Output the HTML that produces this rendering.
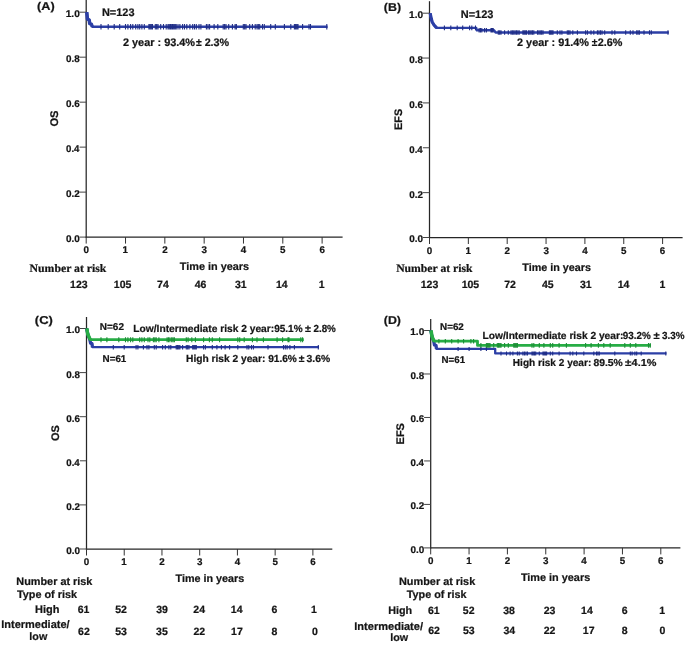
<!DOCTYPE html>
<html><head><meta charset="utf-8"><title>Kaplan-Meier survival curves</title>
<style>
html,body{margin:0;padding:0;background:#fff;}
svg{display:block;will-change:transform;}
text{text-rendering:geometricPrecision;font-family:"Liberation Sans",sans-serif;font-weight:bold;fill:#141414;stroke:#141414;stroke-width:0.22px;paint-order:stroke;}
</style></head><body>
<svg width="685" height="645" viewBox="0 0 685 645">
<rect width="685" height="645" fill="#fff"/>
<line x1="86.20" y1="0.00" x2="86.20" y2="237.70" stroke="#262626" stroke-width="1.25"/>
<line x1="85.60" y1="237.10" x2="342.60" y2="237.10" stroke="#262626" stroke-width="1.25"/>
<line x1="79.60" y1="237.10" x2="86.20" y2="237.10" stroke="#444" stroke-width="1.0"/>
<text x="66.01" y="242.00" font-size="9.8" textLength="13.80" lengthAdjust="spacingAndGlyphs">0.0</text>
<line x1="79.60" y1="192.12" x2="86.20" y2="192.12" stroke="#444" stroke-width="1.0"/>
<text x="66.01" y="197.02" font-size="9.8" textLength="13.79" lengthAdjust="spacingAndGlyphs">0.2</text>
<line x1="79.60" y1="147.14" x2="86.20" y2="147.14" stroke="#444" stroke-width="1.0"/>
<text x="66.02" y="152.04" font-size="9.8" textLength="13.43" lengthAdjust="spacingAndGlyphs">0.4</text>
<line x1="79.60" y1="102.16" x2="86.20" y2="102.16" stroke="#444" stroke-width="1.0"/>
<text x="66.01" y="107.06" font-size="9.8" textLength="13.75" lengthAdjust="spacingAndGlyphs">0.6</text>
<line x1="79.60" y1="57.18" x2="86.20" y2="57.18" stroke="#444" stroke-width="1.0"/>
<text x="66.01" y="62.08" font-size="9.8" textLength="13.69" lengthAdjust="spacingAndGlyphs">0.8</text>
<line x1="79.60" y1="12.20" x2="86.20" y2="12.20" stroke="#444" stroke-width="1.0"/>
<text x="65.76" y="17.10" font-size="9.8" textLength="14.05" lengthAdjust="spacingAndGlyphs">1.0</text>
<line x1="86.20" y1="237.10" x2="86.20" y2="243.60" stroke="#333" stroke-width="1.0"/>
<text x="83.48" y="253.45" font-size="9.8">0</text>
<line x1="125.52" y1="237.10" x2="125.52" y2="243.60" stroke="#333" stroke-width="1.0"/>
<text x="122.62" y="253.45" font-size="9.8">1</text>
<line x1="164.84" y1="237.10" x2="164.84" y2="243.60" stroke="#333" stroke-width="1.0"/>
<text x="162.14" y="253.45" font-size="9.8">2</text>
<line x1="204.16" y1="237.10" x2="204.16" y2="243.60" stroke="#333" stroke-width="1.0"/>
<text x="201.50" y="253.45" font-size="9.8">3</text>
<line x1="243.48" y1="237.10" x2="243.48" y2="243.60" stroke="#333" stroke-width="1.0"/>
<text x="240.71" y="253.45" font-size="9.8">4</text>
<line x1="282.80" y1="237.10" x2="282.80" y2="243.60" stroke="#333" stroke-width="1.0"/>
<text x="280.06" y="253.45" font-size="9.8">5</text>
<line x1="322.12" y1="237.10" x2="322.12" y2="243.60" stroke="#333" stroke-width="1.0"/>
<text x="319.39" y="253.45" font-size="9.8">6</text>
<text x="36.97" y="10.30" font-size="11.4" textLength="17.67" lengthAdjust="spacingAndGlyphs">(A)</text>
<text transform="translate(54.20,118.50) rotate(-90)" x="-8.06" y="3.99" font-size="11.14">OS</text>
<path d="M86.80,12.20 L87.40,19.00 L89.20,20.00 L89.70,23.60 L91.40,24.20 L92.30,26.80 L327.60,26.80" fill="none" stroke="#2c3fa6" stroke-width="2.4" stroke-linejoin="round" stroke-linecap="butt"/>
<path d="M86.80,12.20 L87.40,19.00 L89.20,20.00 L89.70,23.60 L91.40,24.20 L92.30,26.80" fill="none" stroke="#2c3fa6" stroke-width="3.5" stroke-linejoin="round" stroke-linecap="butt"/>
<path d="M101.00,24.00V29.60M108.20,24.00V29.60M114.20,24.00V29.60M119.70,24.00V29.60M125.50,24.00V29.60M127.90,24.00V29.60M130.60,24.00V29.60M132.80,24.00V29.60M135.70,24.00V29.60M137.90,24.00V29.60M139.70,24.00V29.60M141.90,24.00V29.60M144.30,24.00V29.60M148.90,24.00V29.60M150.10,24.00V29.60M151.30,24.00V29.60M152.50,24.00V29.60M155.30,24.00V29.60M156.65,24.00V29.60M158.00,24.00V29.60M160.70,24.00V29.60M163.50,24.00V29.60M166.20,24.00V29.60M168.00,24.00V29.60M169.23,24.00V29.60M170.47,24.00V29.60M171.70,24.00V29.60M172.60,24.00V29.60M173.80,24.00V29.60M175.00,24.00V29.60M176.20,24.00V29.60M178.00,24.00V29.60M179.90,24.00V29.60M182.60,24.00V29.60M184.50,24.00V29.60M186.80,24.00V29.60M189.90,24.00V29.60M192.70,24.00V29.60M194.50,24.00V29.60M196.30,24.00V29.60M199.00,24.00V29.60M200.90,24.00V29.60M206.40,24.00V29.60M208.00,24.00V29.60M209.60,24.00V29.60M214.10,24.00V29.60M217.80,24.00V29.60M223.20,24.00V29.60M224.60,24.00V29.60M226.00,24.00V29.60M228.70,24.00V29.60M232.40,24.00V29.60M235.10,24.00V29.60M236.40,24.00V29.60M243.30,24.00V29.60M244.65,24.00V29.60M246.00,24.00V29.60M249.70,24.00V29.60M252.40,24.00V29.60M255.20,24.00V29.60M257.00,24.00V29.60M258.35,24.00V29.60M259.70,24.00V29.60M262.50,24.00V29.60M264.30,24.00V29.60M270.70,24.00V29.60M275.30,24.00V29.60M284.40,24.00V29.60M290.80,24.00V29.60M294.40,24.00V29.60M295.60,24.00V29.60M296.80,24.00V29.60M298.00,24.00V29.60M302.60,24.00V29.60M309.00,24.00V29.60M310.50,24.00V29.60M326.80,24.00V29.60" stroke="#1f2d86" stroke-width="1.1" fill="none"/>
<text x="101.97" y="15.90" font-size="10.93">N=123</text>
<text x="122.92" y="45.50" font-size="10.91">2 year : 93.4%</text>
<text x="195.95" y="45.50" font-size="10.91" textLength="5.69" lengthAdjust="spacingAndGlyphs">±</text>
<text x="204.63" y="45.50" font-size="10.91" textLength="24.56" lengthAdjust="spacingAndGlyphs">2.3%</text>
<text x="29.58" y="272.00" font-size="11.5" style="font-family:'Liberation Serif',serif" textLength="76.84" lengthAdjust="spacingAndGlyphs">Number at risk</text>
<text x="179.78" y="269.90" font-size="10.88">Time in years</text>
<text x="70.10" y="288.00" font-size="10.5">123</text>
<text x="113.86" y="288.00" font-size="10.5">105</text>
<text x="157.06" y="288.00" font-size="10.5">74</text>
<text x="194.77" y="288.00" font-size="10.5">46</text>
<text x="235.04" y="288.00" font-size="10.5">31</text>
<text x="275.91" y="288.00" font-size="10.5">14</text>
<text x="318.85" y="288.00" font-size="10.5">1</text>
<line x1="429.50" y1="1.20" x2="429.50" y2="238.10" stroke="#262626" stroke-width="1.25"/>
<line x1="428.90" y1="237.50" x2="682.60" y2="237.50" stroke="#262626" stroke-width="1.25"/>
<line x1="422.90" y1="237.50" x2="429.50" y2="237.50" stroke="#444" stroke-width="1.0"/>
<text x="409.31" y="242.40" font-size="9.8" textLength="13.80" lengthAdjust="spacingAndGlyphs">0.0</text>
<line x1="422.90" y1="192.64" x2="429.50" y2="192.64" stroke="#444" stroke-width="1.0"/>
<text x="409.31" y="197.54" font-size="9.8" textLength="13.79" lengthAdjust="spacingAndGlyphs">0.2</text>
<line x1="422.90" y1="147.78" x2="429.50" y2="147.78" stroke="#444" stroke-width="1.0"/>
<text x="409.32" y="152.68" font-size="9.8" textLength="13.43" lengthAdjust="spacingAndGlyphs">0.4</text>
<line x1="422.90" y1="102.92" x2="429.50" y2="102.92" stroke="#444" stroke-width="1.0"/>
<text x="409.31" y="107.82" font-size="9.8" textLength="13.75" lengthAdjust="spacingAndGlyphs">0.6</text>
<line x1="422.90" y1="58.06" x2="429.50" y2="58.06" stroke="#444" stroke-width="1.0"/>
<text x="409.31" y="62.96" font-size="9.8" textLength="13.69" lengthAdjust="spacingAndGlyphs">0.8</text>
<line x1="422.90" y1="13.20" x2="429.50" y2="13.20" stroke="#444" stroke-width="1.0"/>
<text x="409.06" y="18.10" font-size="9.8" textLength="14.05" lengthAdjust="spacingAndGlyphs">1.0</text>
<line x1="429.50" y1="237.50" x2="429.50" y2="244.00" stroke="#333" stroke-width="1.0"/>
<text x="426.78" y="253.85" font-size="9.8">0</text>
<line x1="468.35" y1="237.50" x2="468.35" y2="244.00" stroke="#333" stroke-width="1.0"/>
<text x="465.45" y="253.85" font-size="9.8">1</text>
<line x1="507.20" y1="237.50" x2="507.20" y2="244.00" stroke="#333" stroke-width="1.0"/>
<text x="504.50" y="253.85" font-size="9.8">2</text>
<line x1="546.05" y1="237.50" x2="546.05" y2="244.00" stroke="#333" stroke-width="1.0"/>
<text x="543.39" y="253.85" font-size="9.8">3</text>
<line x1="584.90" y1="237.50" x2="584.90" y2="244.00" stroke="#333" stroke-width="1.0"/>
<text x="582.13" y="253.85" font-size="9.8">4</text>
<line x1="623.75" y1="237.50" x2="623.75" y2="244.00" stroke="#333" stroke-width="1.0"/>
<text x="621.01" y="253.85" font-size="9.8">5</text>
<line x1="662.60" y1="237.50" x2="662.60" y2="244.00" stroke="#333" stroke-width="1.0"/>
<text x="659.87" y="253.85" font-size="9.8">6</text>
<text x="383.88" y="10.60" font-size="11.4" textLength="17.24" lengthAdjust="spacingAndGlyphs">(B)</text>
<text transform="translate(398.30,119.30) rotate(-90)" x="-10.73" y="3.90" font-size="10.88">EFS</text>
<path d="M430.20,13.20 L431.20,18.50 L432.20,22.00 L434.00,25.00 L436.60,27.90 L476.20,27.90 L476.90,30.30 L494.00,30.30 L495.60,32.50 L668.80,32.50" fill="none" stroke="#2c3fa6" stroke-width="2.4" stroke-linejoin="round" stroke-linecap="butt"/>
<path d="M430.20,13.20 L431.20,18.50 L432.20,22.00 L434.00,25.00 L436.60,27.90" fill="none" stroke="#2c3fa6" stroke-width="3.2" stroke-linejoin="round" stroke-linecap="butt"/>
<path d="M444.40,25.60V30.20M450.80,25.60V30.20M457.20,25.60V30.20M462.70,25.60V30.20M469.60,25.60V30.20M471.80,25.60V30.20M475.50,25.60V30.20M479.10,28.00V32.60M480.45,28.00V32.60M481.80,28.00V32.60M484.60,28.00V32.60M486.40,28.00V32.60M491.00,28.00V32.60M492.10,28.00V32.60M493.20,28.00V32.60M498.30,30.20V34.80M499.65,30.20V34.80M501.00,30.20V34.80M504.60,30.20V34.80M508.30,30.20V34.80M511.00,30.20V34.80M512.37,30.20V34.80M513.73,30.20V34.80M515.10,30.20V34.80M516.47,30.20V34.80M517.83,30.20V34.80M519.20,30.20V34.80M522.90,30.20V34.80M524.10,30.20V34.80M525.30,30.20V34.80M526.50,30.20V34.80M528.40,30.20V34.80M529.75,30.20V34.80M531.10,30.20V34.80M532.45,30.20V34.80M533.80,30.20V34.80M537.50,30.20V34.80M538.88,30.20V34.80M540.25,30.20V34.80M541.62,30.20V34.80M543.00,30.20V34.80M549.40,30.20V34.80M550.60,30.20V34.80M551.80,30.20V34.80M553.00,30.20V34.80M557.30,30.20V34.80M560.00,30.20V34.80M561.90,30.20V34.80M567.30,30.20V34.80M568.65,30.20V34.80M570.00,30.20V34.80M572.80,30.20V34.80M577.40,30.20V34.80M585.60,30.20V34.80M587.40,30.20V34.80M591.00,30.20V34.80M593.80,30.20V34.80M597.40,30.20V34.80M598.93,30.20V34.80M600.47,30.20V34.80M602.00,30.20V34.80M604.70,30.20V34.80M612.00,30.20V34.80M614.80,30.20V34.80M625.70,30.20V34.80M630.30,30.20V34.80M633.00,30.20V34.80M636.70,30.20V34.80M638.05,30.20V34.80M639.40,30.20V34.80M644.00,30.20V34.80M649.50,30.20V34.80M651.30,30.20V34.80M668.00,30.20V34.80" stroke="#1f2d86" stroke-width="1.1" fill="none"/>
<text x="460.77" y="17.70" font-size="10.97">N=123</text>
<text x="517.02" y="45.50" font-size="10.89">2 year : 91.4%</text>
<text x="591.75" y="45.50" font-size="10.89" textLength="5.69" lengthAdjust="spacingAndGlyphs">±</text>
<text x="597.72" y="45.50" font-size="10.89" textLength="24.66" lengthAdjust="spacingAndGlyphs">2.6%</text>
<text x="396.18" y="272.10" font-size="11.5" style="font-family:'Liberation Serif',serif" textLength="76.44" lengthAdjust="spacingAndGlyphs">Number at risk</text>
<text x="522.28" y="270.70" font-size="10.77">Time in years</text>
<text x="420.75" y="287.80" font-size="10.5">123</text>
<text x="461.66" y="287.80" font-size="10.5">105</text>
<text x="504.25" y="287.80" font-size="10.5">72</text>
<text x="541.88" y="287.80" font-size="10.5">45</text>
<text x="580.04" y="287.80" font-size="10.5">31</text>
<text x="617.66" y="287.80" font-size="10.5">14</text>
<text x="659.55" y="287.80" font-size="10.5">1</text>
<line x1="86.50" y1="317.00" x2="86.50" y2="549.60" stroke="#262626" stroke-width="1.25"/>
<line x1="85.90" y1="549.00" x2="332.30" y2="549.00" stroke="#262626" stroke-width="1.25"/>
<line x1="79.90" y1="549.00" x2="86.50" y2="549.00" stroke="#444" stroke-width="1.0"/>
<text x="66.31" y="553.90" font-size="9.8" textLength="13.80" lengthAdjust="spacingAndGlyphs">0.0</text>
<line x1="79.90" y1="504.90" x2="86.50" y2="504.90" stroke="#444" stroke-width="1.0"/>
<text x="66.31" y="509.80" font-size="9.8" textLength="13.79" lengthAdjust="spacingAndGlyphs">0.2</text>
<line x1="79.90" y1="460.80" x2="86.50" y2="460.80" stroke="#444" stroke-width="1.0"/>
<text x="66.32" y="465.70" font-size="9.8" textLength="13.43" lengthAdjust="spacingAndGlyphs">0.4</text>
<line x1="79.90" y1="416.70" x2="86.50" y2="416.70" stroke="#444" stroke-width="1.0"/>
<text x="66.31" y="421.60" font-size="9.8" textLength="13.75" lengthAdjust="spacingAndGlyphs">0.6</text>
<line x1="79.90" y1="372.60" x2="86.50" y2="372.60" stroke="#444" stroke-width="1.0"/>
<text x="66.31" y="377.50" font-size="9.8" textLength="13.69" lengthAdjust="spacingAndGlyphs">0.8</text>
<line x1="79.90" y1="328.50" x2="86.50" y2="328.50" stroke="#444" stroke-width="1.0"/>
<text x="66.06" y="333.40" font-size="9.8" textLength="14.05" lengthAdjust="spacingAndGlyphs">1.0</text>
<line x1="86.50" y1="549.00" x2="86.50" y2="555.50" stroke="#333" stroke-width="1.0"/>
<text x="83.78" y="565.35" font-size="9.8">0</text>
<line x1="124.23" y1="549.00" x2="124.23" y2="555.50" stroke="#333" stroke-width="1.0"/>
<text x="121.33" y="565.35" font-size="9.8">1</text>
<line x1="161.96" y1="549.00" x2="161.96" y2="555.50" stroke="#333" stroke-width="1.0"/>
<text x="159.26" y="565.35" font-size="9.8">2</text>
<line x1="199.69" y1="549.00" x2="199.69" y2="555.50" stroke="#333" stroke-width="1.0"/>
<text x="197.03" y="565.35" font-size="9.8">3</text>
<line x1="237.42" y1="549.00" x2="237.42" y2="555.50" stroke="#333" stroke-width="1.0"/>
<text x="234.65" y="565.35" font-size="9.8">4</text>
<line x1="275.15" y1="549.00" x2="275.15" y2="555.50" stroke="#333" stroke-width="1.0"/>
<text x="272.41" y="565.35" font-size="9.8">5</text>
<line x1="312.88" y1="549.00" x2="312.88" y2="555.50" stroke="#333" stroke-width="1.0"/>
<text x="310.15" y="565.35" font-size="9.8">6</text>
<text x="34.85" y="324.00" font-size="11.4" textLength="17.99" lengthAdjust="spacingAndGlyphs">(C)</text>
<text transform="translate(55.20,433.00) rotate(-90)" x="-7.95" y="3.93" font-size="10.99">OS</text>
<path d="M86.50,328.50 L88.40,336.00 L89.80,339.60 L90.60,343.30 L92.00,343.60 L92.40,347.20 L319.00,347.20" fill="none" stroke="#2c3fa6" stroke-width="2.3" stroke-linejoin="round" stroke-linecap="butt"/>
<path d="M86.50,328.50 L88.40,336.00 L89.80,339.60 L90.60,343.30 L92.00,343.60 L92.40,347.20" fill="none" stroke="#2c3fa6" stroke-width="3.2" stroke-linejoin="round" stroke-linecap="butt"/>
<path d="M113.30,345.00V349.40M124.20,345.00V349.40M136.10,345.00V349.40M137.90,345.00V349.40M143.40,345.00V349.40M147.00,345.00V349.40M148.90,345.00V349.40M154.30,345.00V349.40M156.20,345.00V349.40M162.60,345.00V349.40M165.30,345.00V349.40M168.90,345.00V349.40M170.80,345.00V349.40M176.20,345.00V349.40M177.43,345.00V349.40M178.67,345.00V349.40M179.90,345.00V349.40M182.60,345.00V349.40M186.30,345.00V349.40M187.65,345.00V349.40M189.00,345.00V349.40M192.70,345.00V349.40M193.90,345.00V349.40M195.10,345.00V349.40M196.30,345.00V349.40M203.60,345.00V349.40M205.40,345.00V349.40M212.30,345.00V349.40M216.90,345.00V349.40M221.40,345.00V349.40M225.10,345.00V349.40M229.60,345.00V349.40M237.80,345.00V349.40M247.00,345.00V349.40M248.80,345.00V349.40M251.50,345.00V349.40M253.40,345.00V349.40M268.00,345.00V349.40M283.50,345.00V349.40M285.30,345.00V349.40M287.10,345.00V349.40M289.90,345.00V349.40M294.40,345.00V349.40M318.30,345.00V349.40" stroke="#1f2d86" stroke-width="1.1" fill="none"/>
<path d="M86.90,328.50 L87.60,333.50 L89.00,337.00 L90.40,339.70 L303.80,339.70" fill="none" stroke="#27ad45" stroke-width="2.8" stroke-linejoin="round" stroke-linecap="butt"/>
<path d="M86.90,328.50 L87.60,333.50 L89.00,337.00 L90.40,339.70" fill="none" stroke="#27ad45" stroke-width="3.4" stroke-linejoin="round" stroke-linecap="butt"/>
<path d="M101.00,337.20V342.20M106.90,337.20V342.20M118.80,337.20V342.20M125.50,337.20V342.20M127.90,337.20V342.20M130.60,337.20V342.20M132.80,337.20V342.20M139.70,337.20V342.20M141.90,337.20V342.20M144.30,337.20V342.20M148.00,337.20V342.20M149.80,337.20V342.20M153.40,337.20V342.20M154.80,337.20V342.20M156.20,337.20V342.20M158.90,337.20V342.20M167.10,337.20V342.20M168.50,337.20V342.20M169.90,337.20V342.20M171.70,337.20V342.20M173.05,337.20V342.20M174.40,337.20V342.20M186.30,337.20V342.20M188.10,337.20V342.20M191.80,337.20V342.20M195.40,337.20V342.20M203.60,337.20V342.20M209.40,337.20V342.20M212.30,337.20V342.20M219.60,337.20V342.20M237.80,337.20V342.20M239.70,337.20V342.20M244.20,337.20V342.20M252.40,337.20V342.20M257.00,337.20V342.20M263.40,337.20V342.20M277.10,337.20V342.20M282.60,337.20V342.20M288.00,337.20V342.20M289.00,337.20V342.20M300.80,337.20V342.20M302.60,337.20V342.20" stroke="#1c8f36" stroke-width="1.1" fill="none"/>
<text x="99.83" y="330.20" font-size="9.99">N=62</text>
<text x="102.54" y="361.70" font-size="9.85">N=61</text>
<text x="133.32" y="332.30" font-size="10.22">Low/Intermediate risk 2 year:</text>
<text x="274.15" y="332.30" font-size="10.22" textLength="28.41" lengthAdjust="spacingAndGlyphs">95.1%</text>
<text x="305.14" y="332.30" font-size="10.22" textLength="5.91" lengthAdjust="spacingAndGlyphs">±</text>
<text x="313.46" y="332.30" font-size="10.22" textLength="22.40" lengthAdjust="spacingAndGlyphs">2.8%</text>
<text x="186.02" y="362.30" font-size="10.21">High risk 2 year:</text>
<text x="268.15" y="362.30" font-size="10.21" textLength="28.72" lengthAdjust="spacingAndGlyphs">91.6%</text>
<text x="298.75" y="362.30" font-size="10.21" textLength="5.69" lengthAdjust="spacingAndGlyphs">±</text>
<text x="306.56" y="362.30" font-size="10.21" textLength="23.61" lengthAdjust="spacingAndGlyphs">3.6%</text>
<text x="16.37" y="584.80" font-size="10.87">Number at risk</text>
<text x="16.98" y="598.40" font-size="10.85">Type of risk</text>
<text x="175.58" y="582.30" font-size="10.79">Time in years</text>
<text x="35.06" y="612.90" font-size="10.99">High</text>
<text x="1.27" y="628.30" font-size="10.98">Intermediate/</text>
<text x="29.35" y="639.80" font-size="10.76">low</text>
<text x="77.76" y="613.10" font-size="10.5">61</text>
<text x="115.21" y="613.10" font-size="10.5">52</text>
<text x="156.13" y="613.10" font-size="10.5">39</text>
<text x="193.31" y="613.10" font-size="10.5">24</text>
<text x="230.86" y="613.10" font-size="10.5">14</text>
<text x="271.53" y="613.10" font-size="10.5">6</text>
<text x="310.90" y="613.10" font-size="10.5">1</text>
<text x="78.08" y="634.80" font-size="10.5">62</text>
<text x="115.19" y="634.80" font-size="10.5">53</text>
<text x="156.09" y="634.80" font-size="10.5">35</text>
<text x="193.49" y="634.80" font-size="10.5">22</text>
<text x="231.06" y="634.80" font-size="10.5">17</text>
<text x="271.53" y="634.80" font-size="10.5">8</text>
<text x="312.04" y="634.80" font-size="10.5">0</text>
<line x1="430.70" y1="319.10" x2="430.70" y2="548.50" stroke="#262626" stroke-width="1.25"/>
<line x1="430.10" y1="547.90" x2="680.40" y2="547.90" stroke="#262626" stroke-width="1.25"/>
<line x1="424.10" y1="547.90" x2="430.70" y2="547.90" stroke="#444" stroke-width="1.0"/>
<text x="410.51" y="552.80" font-size="9.8" textLength="13.80" lengthAdjust="spacingAndGlyphs">0.0</text>
<line x1="424.10" y1="504.42" x2="430.70" y2="504.42" stroke="#444" stroke-width="1.0"/>
<text x="410.51" y="509.32" font-size="9.8" textLength="13.79" lengthAdjust="spacingAndGlyphs">0.2</text>
<line x1="424.10" y1="460.94" x2="430.70" y2="460.94" stroke="#444" stroke-width="1.0"/>
<text x="410.52" y="465.84" font-size="9.8" textLength="13.43" lengthAdjust="spacingAndGlyphs">0.4</text>
<line x1="424.10" y1="417.46" x2="430.70" y2="417.46" stroke="#444" stroke-width="1.0"/>
<text x="410.51" y="422.36" font-size="9.8" textLength="13.75" lengthAdjust="spacingAndGlyphs">0.6</text>
<line x1="424.10" y1="373.98" x2="430.70" y2="373.98" stroke="#444" stroke-width="1.0"/>
<text x="410.51" y="378.88" font-size="9.8" textLength="13.69" lengthAdjust="spacingAndGlyphs">0.8</text>
<line x1="424.10" y1="330.50" x2="430.70" y2="330.50" stroke="#444" stroke-width="1.0"/>
<text x="410.26" y="335.40" font-size="9.8" textLength="14.05" lengthAdjust="spacingAndGlyphs">1.0</text>
<line x1="430.70" y1="547.90" x2="430.70" y2="554.40" stroke="#333" stroke-width="1.0"/>
<text x="427.98" y="564.25" font-size="9.8">0</text>
<line x1="469.05" y1="547.90" x2="469.05" y2="554.40" stroke="#333" stroke-width="1.0"/>
<text x="466.15" y="564.25" font-size="9.8">1</text>
<line x1="507.40" y1="547.90" x2="507.40" y2="554.40" stroke="#333" stroke-width="1.0"/>
<text x="504.70" y="564.25" font-size="9.8">2</text>
<line x1="545.75" y1="547.90" x2="545.75" y2="554.40" stroke="#333" stroke-width="1.0"/>
<text x="543.09" y="564.25" font-size="9.8">3</text>
<line x1="584.10" y1="547.90" x2="584.10" y2="554.40" stroke="#333" stroke-width="1.0"/>
<text x="581.33" y="564.25" font-size="9.8">4</text>
<line x1="622.45" y1="547.90" x2="622.45" y2="554.40" stroke="#333" stroke-width="1.0"/>
<text x="619.71" y="564.25" font-size="9.8">5</text>
<line x1="660.80" y1="547.90" x2="660.80" y2="554.40" stroke="#333" stroke-width="1.0"/>
<text x="658.07" y="564.25" font-size="9.8">6</text>
<text x="383.79" y="324.30" font-size="11.4" textLength="17.13" lengthAdjust="spacingAndGlyphs">(D)</text>
<text transform="translate(399.60,433.60) rotate(-90)" x="-10.89" y="3.95" font-size="11.04">EFS</text>
<path d="M430.70,330.50 L432.40,338.00 L433.80,341.40 L434.40,345.00 L436.00,345.30 L436.40,348.90 L495.20,348.90 L495.20,353.40 L666.50,353.40" fill="none" stroke="#2c3fa6" stroke-width="2.3" stroke-linejoin="round" stroke-linecap="butt"/>
<path d="M430.70,330.50 L432.40,338.00 L433.80,341.40 L434.40,345.00 L436.00,345.30 L436.40,348.90" fill="none" stroke="#2c3fa6" stroke-width="3.2" stroke-linejoin="round" stroke-linecap="butt"/>
<path d="M458.10,346.90V350.90M469.10,346.90V350.90M480.90,346.90V350.90M486.40,346.90V350.90M501.00,351.40V355.40M506.50,351.40V355.40M510.10,351.40V355.40M512.90,351.40V355.40M517.40,351.40V355.40M519.20,351.40V355.40M522.90,351.40V355.40M524.43,351.40V355.40M525.97,351.40V355.40M527.50,351.40V355.40M532.00,351.40V355.40M533.23,351.40V355.40M534.47,351.40V355.40M535.70,351.40V355.40M539.30,351.40V355.40M543.00,351.40V355.40M544.20,351.40V355.40M545.40,351.40V355.40M546.60,351.40V355.40M550.30,351.40V355.40M552.70,351.40V355.40M559.10,351.40V355.40M570.10,351.40V355.40M572.80,351.40V355.40M576.50,351.40V355.40M583.80,351.40V355.40M593.80,351.40V355.40M596.50,351.40V355.40M597.90,351.40V355.40M599.30,351.40V355.40M614.80,351.40V355.40M630.30,351.40V355.40M632.10,351.40V355.40M634.90,351.40V355.40M636.70,351.40V355.40M641.20,351.40V355.40M665.80,351.40V355.40" stroke="#1f2d86" stroke-width="1.1" fill="none"/>
<path d="M431.10,330.50 L431.80,335.50 L433.00,339.00 L434.20,341.20 L477.50,341.20 L477.50,345.40 L651.00,345.40" fill="none" stroke="#27ad45" stroke-width="2.8" stroke-linejoin="round" stroke-linecap="butt"/>
<path d="M431.10,330.50 L431.80,335.50 L433.00,339.00 L434.20,341.20" fill="none" stroke="#27ad45" stroke-width="3.5" stroke-linejoin="round" stroke-linecap="butt"/>
<path d="M438.90,338.90V343.50M445.30,338.90V343.50M451.70,338.90V343.50M458.10,338.90V343.50M463.60,338.90V343.50M470.90,338.90V343.50M473.60,338.90V343.50M480.90,343.10V347.70M486.40,343.10V347.70M487.60,343.10V347.70M488.80,343.10V347.70M490.00,343.10V347.70M493.70,343.10V347.70M497.30,343.10V347.70M498.53,343.10V347.70M499.77,343.10V347.70M501.00,343.10V347.70M504.60,343.10V347.70M508.30,343.10V347.70M513.80,343.10V347.70M515.00,343.10V347.70M516.20,343.10V347.70M517.40,343.10V347.70M532.00,343.10V347.70M533.80,343.10V347.70M539.30,343.10V347.70M543.90,343.10V347.70M550.30,343.10V347.70M552.70,343.10V347.70M559.10,343.10V347.70M566.40,343.10V347.70M585.60,343.10V347.70M591.10,343.10V347.70M598.40,343.10V347.70M603.80,343.10V347.70M610.20,343.10V347.70M624.80,343.10V347.70M630.30,343.10V347.70M635.80,343.10V347.70M648.50,343.10V347.70M650.20,343.10V347.70" stroke="#1c8f36" stroke-width="1.1" fill="none"/>
<text x="440.04" y="330.10" font-size="9.86">N=62</text>
<text x="441.55" y="363.10" font-size="9.73">N=61</text>
<text x="482.52" y="338.70" font-size="10.22">Low/Intermediate risk 2 year:</text>
<text x="622.86" y="338.70" font-size="10.22" textLength="27.90" lengthAdjust="spacingAndGlyphs">93.2%</text>
<text x="653.43" y="338.70" font-size="10.22" textLength="6.13" lengthAdjust="spacingAndGlyphs">±</text>
<text x="661.97" y="338.70" font-size="10.22" textLength="22.49" lengthAdjust="spacingAndGlyphs">3.3%</text>
<text x="512.83" y="366.10" font-size="10.08">High risk 2 year:</text>
<text x="593.47" y="366.10" font-size="10.08" textLength="29.30" lengthAdjust="spacingAndGlyphs">89.5%</text>
<text x="625.02" y="366.10" font-size="10.08" textLength="6.35" lengthAdjust="spacingAndGlyphs">±</text>
<text x="631.64" y="366.10" font-size="10.08" textLength="24.75" lengthAdjust="spacingAndGlyphs">4.1%</text>
<text x="398.97" y="584.80" font-size="10.9">Number at risk</text>
<text x="406.78" y="598.40" font-size="10.8">Type of risk</text>
<text x="520.88" y="581.00" font-size="10.88">Time in years</text>
<text x="388.28" y="614.20" font-size="10.75">High</text>
<text x="354.26" y="629.50" font-size="11.06">Intermediate/</text>
<text x="390.25" y="641.00" font-size="10.76">low</text>
<text x="427.96" y="614.40" font-size="10.5">61</text>
<text x="462.81" y="614.40" font-size="10.5">52</text>
<text x="503.15" y="614.40" font-size="10.5">38</text>
<text x="543.77" y="614.40" font-size="10.5">23</text>
<text x="581.11" y="614.40" font-size="10.5">14</text>
<text x="621.68" y="614.40" font-size="10.5">6</text>
<text x="659.30" y="614.40" font-size="10.5">1</text>
<text x="428.28" y="634.10" font-size="10.5">62</text>
<text x="463.04" y="634.10" font-size="10.5">53</text>
<text x="503.52" y="634.10" font-size="10.5">34</text>
<text x="543.79" y="634.10" font-size="10.5">22</text>
<text x="582.86" y="634.10" font-size="10.5">17</text>
<text x="621.68" y="634.10" font-size="10.5">8</text>
<text x="659.49" y="634.10" font-size="10.5">0</text>
</svg>
</body></html>
